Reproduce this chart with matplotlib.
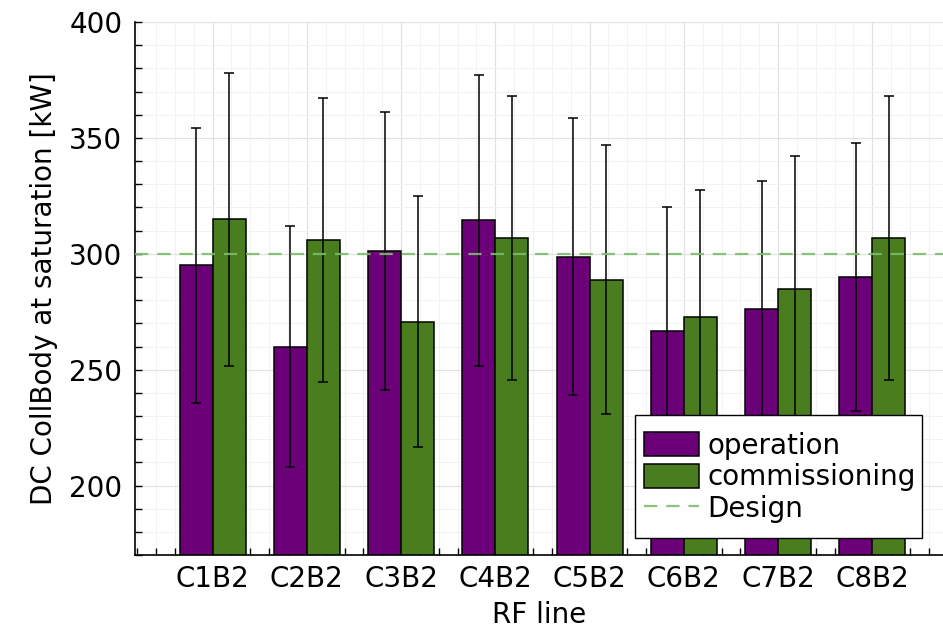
import matplotlib.pyplot as plt
import numpy as np
from matplotlib.ticker import MultipleLocator
from matplotlib.patches import Rectangle

lines = ["C1B2", "C2B2", "C3B2", "C4B2", "C5B2", "C6B2", "C7B2", "C8B2"]
operation = [295.0, 260.0, 301.2, 314.4, 298.8, 266.8, 276.3, 289.8]
operation_err = [59.2, 52.0, 60.1, 62.9, 59.9, 53.5, 55.3, 57.8]
commissioning = [314.8, 306.0, 270.7, 306.9, 288.9, 272.8, 284.8, 306.9]
commissioning_err = [63.0, 61.2, 54.2, 61.2, 57.9, 54.7, 57.2, 61.2]
design = 300

plt.rcParams['font.family'] = 'DejaVu Sans'
plt.rcParams['font.size'] = 20

fig = plt.figure(figsize=(9.43, 6.28), dpi=100)
ax = fig.add_axes([0.143, 0.116, 0.857, 0.849])

x = np.arange(1, len(lines) + 1)
w = 0.35
b1 = ax.bar(x - w/2, operation, w, color='#6b0079', edgecolor='black', linewidth=1.1, label='operation', zorder=2)
b2 = ax.bar(x + w/2, commissioning, w, color='#4a7d1e', edgecolor='black', linewidth=1.1, label='commissioning', zorder=2)
ax.errorbar(x - w/2, operation, yerr=operation_err, fmt='none', ecolor='black', elinewidth=1.1, capsize=3.6, capthick=1.1, zorder=3)
ax.errorbar(x + w/2, commissioning, yerr=commissioning_err, fmt='none', ecolor='black', elinewidth=1.1, capsize=3.6, capthick=1.1, zorder=3)
dl = ax.axhline(design, color='#7cbc6c', linestyle=(0, (6, 4)), linewidth=1.6, alpha=0.9, label='Design', zorder=4)

ax.set_xlim(0.175, 8.75)
ax.set_ylim(170, 400)
ax.set_xticks(x)
ax.set_xticklabels(lines)
ax.xaxis.set_minor_locator(MultipleLocator(0.2))
ax.yaxis.set_major_locator(MultipleLocator(50))
ax.yaxis.set_minor_locator(MultipleLocator(10))
ax.tick_params(which='both', direction='in', length=5, width=1, top=False, right=False)
ax.tick_params(axis='x', which='major', pad=7)
ax.tick_params(axis='y', which='major', pad=9)
ax.set_axisbelow(True)
ax.grid(which='major', color='#e2e2e2', linewidth=0.9)
ax.grid(which='minor', color='#f2f2f2', linewidth=0.7)
for s in ['top', 'right']:
    ax.spines[s].set_visible(False)
for s in ['left', 'bottom']:
    ax.spines[s].set_linewidth(1.2)

ax.set_xlabel("RF line", labelpad=6)
ax.set_ylabel("DC CollBody at saturation [kW]", labelpad=8)

# legend box (drawn separately to get the taller frame)
ax.add_patch(Rectangle((0.619, 0.032), 0.355, 0.231, transform=ax.transAxes,
                       facecolor='white', edgecolor='black', linewidth=1.0, zorder=5))
leg = ax.legend([b1, b2, dl], ['operation', 'commissioning', 'Design'],
                loc='center left', bbox_to_anchor=(0.619, 0.146), borderaxespad=0,
                frameon=False, fontsize=20,
                handlelength=1.98, handleheight=0.95, handletextpad=0.29,
                labelspacing=0.13, borderpad=0.33)
leg.set_zorder(6)

fig.savefig("out.png", dpi=100)
